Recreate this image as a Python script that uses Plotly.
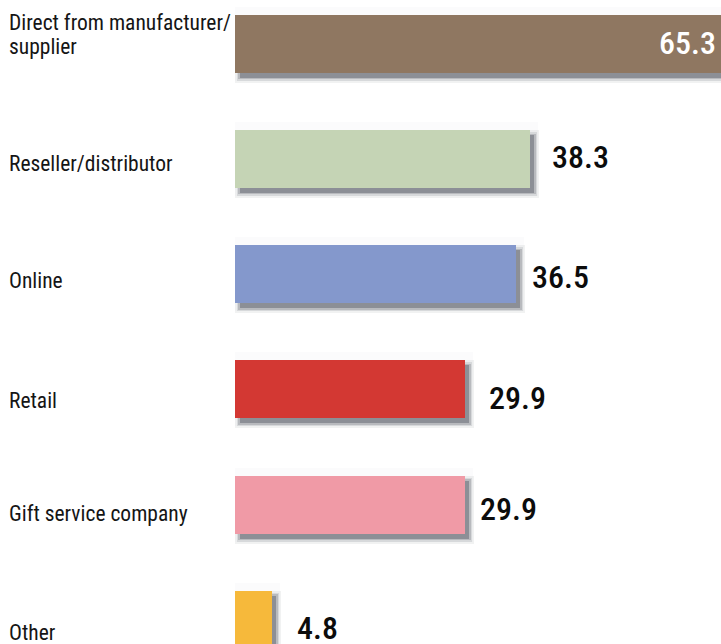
import plotly.graph_objects as go

# Survey results: where gifts are purchased (% of respondents)
categories = [
    "Direct from manufacturer/\nsupplier",
    "Reseller/distributor",
    "Online",
    "Retail",
    "Gift service company",
    "Other",
]
values = [65.3, 38.3, 36.5, 29.9, 29.9, 4.8]
colors = ["#8F7761", "#C5D4B5", "#8498CC", "#D33833", "#F09AA6", "#F6B93B"]
value_text = ["65.3", "38.3", "36.5", "29.9", "29.9", "4.8"]

# small hand-set nudges (pixels) for the labels
name_dy = [8.8, -4.7, -6.0, -11.5, -9.0, -13.0]
value_dy = [0.3, 2.3, -2.5, -9.0, -4.0, -8.0]
value_dx = [0, 20, 14, 22, 13, 23]

FONT = "Roboto Condensed, DejaVu Sans Condensed, sans-serif"
W, H = 721, 644
LEFT = 235
X_MAX = 63.2
BAR_W = 0.503
Y_RANGE = [5.21, -0.38]

px_x = (W - LEFT) / X_MAX             # pixels per x unit
px_y = H / (Y_RANGE[0] - Y_RANGE[1])  # pixels per category step

idx = list(range(len(categories)))
fig = go.Figure()

# faint halo around each bar
halo = 8
w = BAR_W + 2 * halo / px_y
fig.add_trace(go.Bar(
    y=idx, x=[v + 2 * halo / px_x for v in values], base=-halo / px_x,
    orientation="h", width=w, offset=-w / 2,
    marker=dict(color="#8a92a0", opacity=0.035, line=dict(width=0)),
    hoverinfo="skip", showlegend=False,
))

# soft drop shadow built from stacked translucent bars
shadow_dx, shadow_dy = 4.5, 5.0
for spread, op in [(5, 0.07), (3, 0.12), (1.5, 0.2), (0, 0.35)]:
    w = BAR_W + 2 * spread / px_y
    fig.add_trace(go.Bar(
        y=idx, x=[v + 2 * spread / px_x for v in values],
        base=(shadow_dx - spread) / px_x,
        orientation="h", width=w, offset=-w / 2 + shadow_dy / px_y,
        marker=dict(color="#3a404c", opacity=op, line=dict(width=0)),
        hoverinfo="skip", showlegend=False,
    ))

fig.add_trace(go.Bar(
    y=idx, x=values, orientation="h", width=BAR_W,
    marker=dict(color=colors, line=dict(width=0)),
    showlegend=False,
))

annotations = []
for i, (name, v, txt) in enumerate(zip(categories, values, value_text)):
    lines = name.split("\n")
    n = len(lines)
    for k, line in enumerate(lines):
        annotations.append(dict(
            text=line, xref="paper", x=0, xshift=-(LEFT - 7), xanchor="left",
            yref="y", y=i, yanchor="middle",
            yshift=name_dy[i] + (n - 1) * 12 - k * 24,
            showarrow=False, align="left",
            font=dict(family=FONT, size=21.5, color="#151515"),
        ))
    if v > X_MAX:
        annotations.append(dict(
            text=txt, xref="paper", x=1, xshift=-3, xanchor="right",
            yref="y", y=i, yanchor="middle", yshift=value_dy[i],
            showarrow=False, font=dict(family=FONT, size=32, color="white", weight=500),
        ))
    else:
        annotations.append(dict(
            text=txt, xref="x", x=v, xshift=value_dx[i], xanchor="left",
            yref="y", y=i, yanchor="middle", yshift=value_dy[i],
            showarrow=False, font=dict(family=FONT, size=32, color="#0c0c0c", weight=500),
        ))

fig.update_layout(
    width=W, height=H,
    margin=dict(l=LEFT, r=0, t=0, b=0),
    paper_bgcolor="white", plot_bgcolor="white",
    barmode="overlay", bargap=0,
    xaxis=dict(range=[0, X_MAX], visible=False, fixedrange=True),
    yaxis=dict(range=Y_RANGE, visible=False, fixedrange=True),
    annotations=annotations,
    font=dict(family=FONT),
)

fig.write_html("out.html")
